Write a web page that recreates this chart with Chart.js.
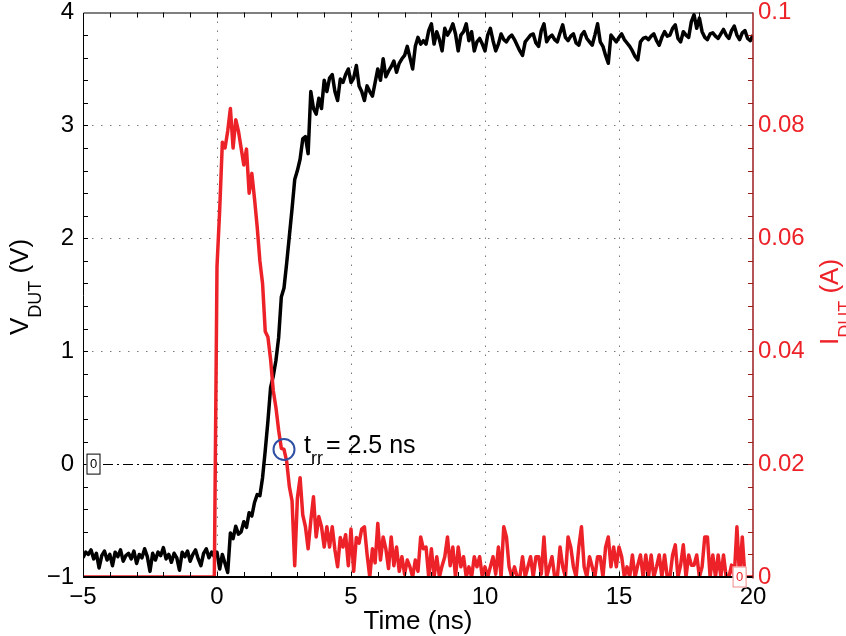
<!DOCTYPE html>
<html>
<head>
<meta charset="utf-8">
<script src="https://cdn.jsdelivr.net/npm/chart.js@4.4.1/dist/chart.umd.min.js"></script>
<style>
  html, body { margin: 0; padding: 0; background: #fff; }
  canvas { display: block; }
</style>
</head>
<body>
<canvas id="c" width="846" height="636"></canvas>
<script>
// DUT voltage (V), one sample every 0.1 ns from -5 ns to 20 ns
const vDut = [
  -0.83,-0.78,-0.80,-0.76,-0.84,-0.79,-0.92,-0.81,-0.77,-0.85,
  -0.80,-0.90,-0.78,-0.82,-0.76,-0.86,-0.81,-0.79,-0.84,-0.77,
  -0.88,-0.80,-0.83,-0.75,-0.82,-0.95,-0.79,-0.85,-0.78,-0.81,
  -0.74,-0.84,-0.80,-0.87,-0.79,-0.83,-0.94,-0.78,-0.82,-0.77,
  -0.86,-0.80,-0.76,-0.84,-0.90,-0.79,-0.75,-0.83,-0.78,-0.82,
  -0.78,-0.93,-0.80,-0.88,-0.96,-0.61,-0.66,-0.55,-0.62,-0.60,
  -0.51,-0.56,-0.43,-0.46,-0.34,-0.27,-0.28,-0.12, 0.12, 0.38,
   0.68, 0.78, 0.92, 1.12, 1.48, 1.56, 1.78, 2.02, 2.26, 2.52,
   2.60, 2.70, 2.88, 2.90, 2.75,
   3.30, 3.15, 3.10, 3.24, 3.15,
   3.40, 3.30, 3.42, 3.45, 3.30, 3.22, 3.41, 3.38, 3.45, 3.50,
   3.38, 3.42, 3.53, 3.35, 3.30, 3.22, 3.35, 3.30, 3.26, 3.38,
   3.50, 3.40, 3.59, 3.43, 3.48, 3.52, 3.57, 3.47, 3.55, 3.59,
   3.62, 3.70, 3.60, 3.50, 3.70, 3.78, 3.72, 3.75, 3.72, 3.84,
   3.90, 3.72, 3.83, 3.76, 3.66, 3.86, 3.80, 3.84, 3.90, 3.81,
   3.66, 3.80, 3.83, 3.90, 3.75, 3.83, 3.66, 3.74, 3.77, 3.72,
   3.66, 3.80, 3.86, 3.75, 3.66, 3.72, 3.81, 3.76, 3.74, 3.78,
   3.80, 3.76, 3.71, 3.66, 3.62, 3.74, 3.77, 3.80, 3.81, 3.73,
   3.70, 3.84, 3.90, 3.74, 3.78, 3.80, 3.76, 3.74, 3.82, 3.89,
   3.78, 3.75, 3.79, 3.81, 3.73, 3.71, 3.80, 3.83, 3.77, 3.74,
   3.71, 3.80, 3.90, 3.74, 3.70, 3.62, 3.55, 3.80, 3.77, 3.74,
   3.78, 3.81, 3.76, 3.73, 3.70, 3.66, 3.61, 3.58, 3.74, 3.77,
   3.78, 3.76, 3.79, 3.81, 3.75, 3.71, 3.78, 3.83, 3.79, 3.80,
   3.86, 3.89, 3.77, 3.74, 3.83, 3.80, 3.78, 3.92, 3.98, 3.86,
   3.95, 3.83, 3.78, 3.76, 3.81, 3.82, 3.79, 3.77, 3.81, 3.85,
   3.80, 3.77, 3.84, 3.88, 3.80, 3.76, 3.82, 3.84, 3.77, 3.75,
   3.80
];

// DUT current (A), same sampling
const iDut = [
  0,0,0,0,0,0,0,0,0,0, 0,0,0,0,0,0,0,0,0,0,
  0,0,0,0,0,0,0,0,0,0, 0,0,0,0,0,0,0,0,0,0,
  0,0,0,0,0,0,0,0,0,0,
  0.055, 0.065, 0.077, 0.076, 0.079, 0.083, 0.076, 0.081, 0.079, 0.076,
  0.073, 0.0758,0.068, 0.0715,0.067, 0.062, 0.056, 0.052, 0.0435,0.0425,
  0.0385,0.033, 0.030, 0.026, 0.0228,0.0226,0.0205,0.016, 0.0135,0.002,
  0.014, 0.0176,0.011, 0.0089,0.005, 0.010, 0.0142,0.0071,0.0107,0.0089,
  0.0053,0.0089,0.0053,0.0089,0.0048,0.0018,0.007, 0.0053,0.0075,0.002,
  0.0085,0.001, 0.007, 0.006, 0.0085,0.0089,0.004, 0.0,   0.005, 0.0025,
  0.0095,0.003, 0.0071,0.005, 0.0015,0.0071,0.002, 0.0053,0.001, 0.0036,
  0.0005,0.003, 0.0018,0.0,   0.003, 0.001, 0.0071,0.005, 0.0053,0.0,
  0.005, 0.0,   0.0036,0.0,   0.002, 0.0036,0.0071,0.002, 0.0053,0.0,
  0.0053,0.0018,0.0036,0.0,   0.0018,0.0,   0.0036,0.0018,0.0036,0.0,
  0.0018,0.0,   0.0018,0.0036,0.0005,0.0053,0.0,   0.0089,0.0071,0.0018,
  0.0,   0.0018,0.0,   0.0,   0.0036,0.0,   0.0018,0.0036,0.0,   0.0036,
  0.0036,0.0005,0.0071,0.0,   0.0018,0.0036,0.0,   0.0,   0.0053,0.0018,
  0.0,   0.0071,0.0053,0.0018,0.0,   0.0053,0.0089,0.0018,0.0,   0.0036,
  0.0018,0.0,   0.0036,0.0036,0.0,   0.0053,0.0071,0.0018,0.0053,0.0018,
  0.0053,0.0036,0.0,   0.0018,0.0,   0.0039,0.0,   0.0021,0.0039,0.0,
  0.0039,0.0,   0.0039,0.0,   0.0018,0.0039,0.0,   0.0039,0.0,   0.0,
  0.0039,0.0057,0.0,   0.0021,0.0057,0.0,   0.0039,0.0021,0.0021,0.0039,
  0.0,   0.0018,0.0071,0.0071,0.0,   0.0039,0.0,   0.0039,0.0,   0.0039,
  0.0,   0.0,   0.0021,0.0,   0.0089,0.0,   0.0071,0.0,   0.0,   0.0,
  0.0
];

// sample clock (ns)
const timeNs = vDut.map((_, i) => Math.round((-5 + i * 0.1) * 10) / 10);

const timeTicks = [-5, 0, 5, 10, 15, 20];
const voltTicks = [-1, 0, 1, 2, 3, 4];
const currTicks = [0, 0.02, 0.04, 0.06, 0.08, 0.1];

// reverse-recovery time marker
const trrNs = 2.5;

const RED = '#ed2228';
const RED_AXIS = '#9c1c1c';
const FONT = '"Liberation Sans", Arial, Helvetica, sans-serif';

const fmt = v => (v < 0 ? '\u2212' + Math.abs(v) : String(v));

const toXY = (ys) => ys.map((y, i) => ({ x: timeNs[i], y }));

const trrIndex = timeNs.indexOf(trrNs);

function drawRich(ctx, parts) {
  let x = 0;
  for (const p of parts) {
    ctx.font = p.size + 'px ' + FONT;
    ctx.fillText(p.t, x + (p.gap || 0), p.dy || 0);
    x += (p.gap || 0) + ctx.measureText(p.t).width;
  }
  return x;
}
function richWidth(ctx, parts) {
  let w = 0;
  for (const p of parts) {
    ctx.font = p.size + 'px ' + FONT;
    w += (p.gap || 0) + ctx.measureText(p.t).width;
  }
  return w;
}

const decorPlugin = {
  id: 'decor',
  beforeDatasetsDraw(chart) {
    const { ctx, chartArea: a, scales } = chart;
    const y0 = Math.round(scales.yV.getPixelForValue(0)) + 0.5;
    ctx.save();
    ctx.strokeStyle = '#000';
    ctx.lineWidth = 1;
    ctx.setLineDash([10, 4, 2, 4]);
    ctx.beginPath();
    ctx.moveTo(a.left, y0);
    ctx.lineTo(a.right, y0);
    ctx.stroke();
    ctx.restore();
  },
  afterDatasetsDraw(chart) {
    const { ctx, chartArea: a, scales } = chart;
    const xs = scales.x, yv = scales.yV, yi = scales.yI;
    ctx.save();
    ctx.setLineDash([]);
    // frame
    ctx.strokeStyle = '#000';
    ctx.lineWidth = 1;
    ctx.beginPath();
    ctx.moveTo(a.left + 0.5, a.bottom + 0.5);
    ctx.lineTo(a.left + 0.5, a.top + 0.5);
    ctx.lineTo(a.right, a.top + 0.5);
    ctx.stroke();
    ctx.lineWidth = 2;
    ctx.beginPath();
    ctx.moveTo(a.left, a.bottom);
    ctx.lineTo(a.right, a.bottom);
    ctx.stroke();
    ctx.strokeStyle = RED_AXIS;
    ctx.lineWidth = 1.5;
    ctx.beginPath();
    ctx.moveTo(a.right, a.top);
    ctx.lineTo(a.right, a.bottom + 1.5);
    ctx.stroke();
    // inward tick marks
    const L = 5;
    ctx.lineWidth = 1;
    ctx.strokeStyle = '#000';
    ctx.beginPath();
    for (let k = 1; k < 25; k++) {
      const px = Math.round(xs.getPixelForValue(-5 + k)) + 0.5;
      ctx.moveTo(px, a.bottom); ctx.lineTo(px, a.bottom - L);
      ctx.moveTo(px, a.top); ctx.lineTo(px, a.top + L);
    }
    for (let k = 1; k < 25; k++) {
      const py = Math.round(yv.getPixelForValue(-1 + 0.2 * k)) + 0.5;
      ctx.moveTo(a.left, py); ctx.lineTo(a.left + L, py);
    }
    ctx.stroke();
    ctx.strokeStyle = RED_AXIS;
    ctx.beginPath();
    for (let k = 1; k < 25; k++) {
      const py = Math.round(yi.getPixelForValue(0.004 * k)) + 0.5;
      ctx.moveTo(a.right, py); ctx.lineTo(a.right - L, py);
    }
    ctx.stroke();

    // small zero tags
    const tag = (cx, cy, color, border) => {
      ctx.font = '13px ' + FONT;
      ctx.fillStyle = '#fff';
      ctx.fillRect(cx - 7, cy - 10.5, 14, 21);
      ctx.strokeStyle = border;
      ctx.lineWidth = 1;
      ctx.strokeRect(cx - 6.5, cy - 10, 13, 20);
      ctx.fillStyle = color;
      ctx.textAlign = 'center';
      ctx.textBaseline = 'middle';
      ctx.fillText('0', cx, cy + 0.5);
    };
    tag(a.left + 10.5, yv.getPixelForValue(0), '#000', '#000');
    tag(xs.getPixelForValue(19.5), yi.getPixelForValue(0), RED, '#f08a8c');
    ctx.restore();
  },
  afterDraw(chart) {
    const { ctx, chartArea: a, scales } = chart;
    ctx.save();
    ctx.textAlign = 'left';
    ctx.textBaseline = 'alphabetic';

    // x title
    ctx.fillStyle = '#000';
    ctx.font = '26px ' + FONT;
    ctx.textAlign = 'center';
    ctx.fillText('Time (ns)', (a.left + a.right) / 2, 629);
    ctx.textAlign = 'left';

    // left title: V_DUT (V)
    const leftParts = [
      { t: 'V', size: 26 },
      { t: 'DUT', size: 18, dy: 13 },
      { t: ' (V)', size: 26 }
    ];
    let w = richWidth(ctx, leftParts);
    ctx.save();
    ctx.translate(28, 287);
    ctx.rotate(-Math.PI / 2);
    ctx.fillStyle = '#000';
    ctx.translate(-w / 2, 0);
    drawRich(ctx, leftParts);
    ctx.restore();

    // right title: I_DUT (A)
    const rightParts = [
      { t: 'I', size: 26 },
      { t: 'DUT', size: 18, dy: 13 },
      { t: ' (A)', size: 26 }
    ];
    w = richWidth(ctx, rightParts);
    ctx.save();
    ctx.translate(838, 302);
    ctx.rotate(-Math.PI / 2);
    ctx.fillStyle = RED;
    ctx.translate(-w / 2, 0);
    drawRich(ctx, rightParts);
    ctx.restore();

    // t_rr annotation beside the marker
    const cx = scales.x.getPixelForValue(trrNs);
    const cy = scales.yI.getPixelForValue(iDut[trrIndex]);
    ctx.save();
    ctx.translate(cx + 20, cy + 4);
    ctx.fillStyle = '#000';
    drawRich(ctx, [
      { t: 't', size: 25 },
      { t: 'rr', size: 18, dy: 11 },
      { t: '= 2.5 ns', size: 25, gap: 3 }
    ]);
    ctx.restore();
    ctx.restore();
  }
};

const tickFont = { family: FONT, size: 24 };

new Chart(document.getElementById('c'), {
  type: 'line',
  data: {
    datasets: [
      {
        label: 'trr',
        type: 'scatter',
        data: [{ x: trrNs, y: iDut[trrIndex] }],
        yAxisID: 'yI',
        pointRadius: 10.5,
        pointHoverRadius: 10.5,
        pointStyle: 'circle',
        backgroundColor: 'rgba(0,0,0,0)',
        borderColor: '#2e4fa3',
        borderWidth: 2,
        order: 0
      },
      {
        label: 'I_DUT',
        data: toXY(iDut),
        yAxisID: 'yI',
        borderColor: RED,
        borderWidth: 3.5,
        pointRadius: 0,
        tension: 0,
        borderJoinStyle: 'round',
        clip: { left: 2, top: 2, right: 2, bottom: -1 },
        order: 1
      },
      {
        label: 'V_DUT',
        data: toXY(vDut),
        yAxisID: 'yV',
        borderColor: '#000',
        borderWidth: 3.5,
        pointRadius: 0,
        tension: 0,
        borderJoinStyle: 'round',
        order: 2
      }
    ]
  },
  options: {
    responsive: false,
    animation: false,
    devicePixelRatio: 1,
    layout: { padding: { top: 12, left: 0, right: 0, bottom: 0 } },
    plugins: { legend: { display: false }, tooltip: { enabled: false } },
    events: [],
    scales: {
      x: {
        type: 'linear',
        position: 'bottom',
        min: -5, max: 20,
        afterBuildTicks: s => { s.ticks = timeTicks.map(v => ({ value: v })); },
        afterFit: s => { s.height = 59; s.paddingLeft = 0; s.paddingRight = 0; },
        ticks: { font: tickFont, color: '#000', padding: 6, maxRotation: 0, autoSkip: false, callback: v => fmt(v) },
        grid: {
          drawTicks: false,
          color: c => (c.tick && (c.tick.value === -5 || c.tick.value === 20)) ? 'rgba(0,0,0,0)' : '#7a7a7a',
          lineWidth: 1
        },
        border: { display: false, dash: [1.5, 7.5] }
      },
      yV: {
        type: 'linear',
        position: 'left',
        min: -1, max: 4,
        afterBuildTicks: s => { s.ticks = voltTicks.map(v => ({ value: v })); },
        afterFit: s => { s.width = 83; s.paddingTop = 0; s.paddingBottom = 0; },
        ticks: { font: tickFont, color: '#000', padding: 9, autoSkip: false, callback: v => fmt(v) },
        grid: {
          drawTicks: false,
          color: c => (c.tick && (c.tick.value === 0 || c.tick.value === -1 || c.tick.value === 4)) ? 'rgba(0,0,0,0)' : '#7a7a7a',
          lineWidth: 1
        },
        border: { display: false, dash: [1.5, 7.5] }
      },
      yI: {
        type: 'linear',
        position: 'right',
        min: 0, max: 0.1,
        afterBuildTicks: s => { s.ticks = currTicks.map(v => ({ value: v })); },
        afterFit: s => { s.width = 93; s.paddingTop = 0; s.paddingBottom = 0; },
        ticks: { font: tickFont, color: RED, padding: 5, autoSkip: false, callback: v => fmt(v) },
        grid: { display: false, drawTicks: false },
        border: { display: false }
      }
    }
  },
  plugins: [decorPlugin]
});
</script>
</body>
</html>
